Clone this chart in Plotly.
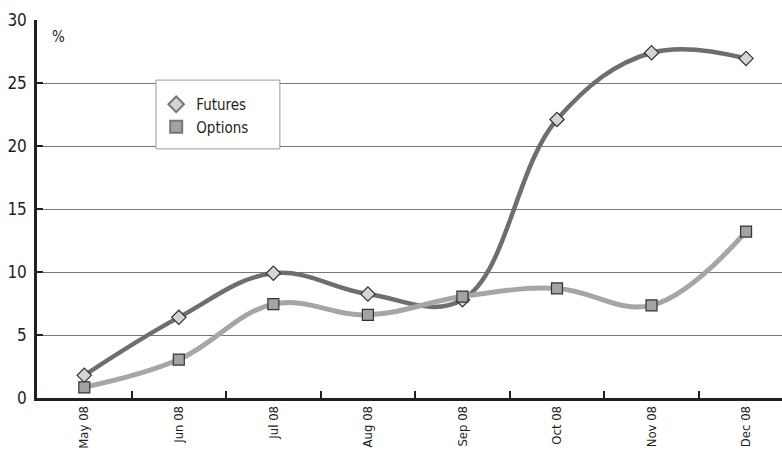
import plotly.graph_objects as go

months = ["May 08", "Jun 08", "Jul 08", "Aug 08", "Sep 08", "Oct 08", "Nov 08", "Dec 08"]
futures = [1.8, 6.4, 9.9, 8.25, 7.8, 22.1, 27.4, 26.95]
options = [0.85, 3.05, 7.45, 6.6, 8.05, 8.7, 7.35, 13.2]
y_ticks = [0, 5, 10, 15, 20, 25, 30]

FONT = "Liberation Sans Narrow, DejaVu Sans Condensed, Arial Narrow, sans-serif"
AXIS_COLOR = "#231f20"

fig = go.Figure()

# smoothed series lines with markers
fig.add_trace(go.Scatter(
    x=months, y=futures, name="Futures", mode="lines+markers",
    line=dict(color="#6e6e6e", width=4.5, shape="spline", smoothing=1.1),
    marker=dict(symbol="diamond", size=11, color="#d4d4d4",
                line=dict(color="#333333", width=1.2)),
    showlegend=False,
))
fig.add_trace(go.Scatter(
    x=months, y=options, name="Options", mode="lines+markers",
    line=dict(color="#a6a6a6", width=5, shape="spline", smoothing=1.1),
    marker=dict(symbol="square", size=11, color="#a3a3a3",
                line=dict(color="#333333", width=1.2)),
    showlegend=False,
))

# legend entries showing the marker only
fig.add_trace(go.Scatter(
    x=[None], y=[None], name="Futures", mode="markers",
    marker=dict(symbol="diamond", size=13, color="#d4d4d4",
                line=dict(color="#777777", width=1)),
))
fig.add_trace(go.Scatter(
    x=[None], y=[None], name="Options", mode="markers",
    marker=dict(symbol="square", size=13, color="#a3a3a3",
                line=dict(color="#777777", width=1)),
))

fig.update_layout(
    width=782, height=450,
    margin=dict(l=37, r=0, t=20, b=52),
    paper_bgcolor="white", plot_bgcolor="white",
    font=dict(family=FONT, size=14, color="#231f20"),
    showlegend=True,
    legend=dict(
        x=0.16, y=0.82, xanchor="left", yanchor="top",
        bgcolor="rgba(0,0,0,0)", borderwidth=0,
        font=dict(family=FONT, size=15, color="#231f20"),
        itemsizing="constant",
    ),
    # white legend panel covering the gridlines
    shapes=[dict(
        type="rect", xref="paper", yref="paper",
        x0=0.1597, x1=0.326, y0=0.659, y1=0.841,
        fillcolor="white", line=dict(color="#999999", width=1),
        layer="above",
    )],
    xaxis=dict(
        type="category", range=[-0.5, 7.38], automargin=False,
        showline=True, linecolor=AXIS_COLOR, linewidth=2.5,
        ticks="inside", ticklen=7, tickwidth=1.5, tickcolor=AXIS_COLOR,
        tickson="boundaries", tickangle=-90, ticklabelstandoff=0,
        showgrid=False, zeroline=False,
        tickfont=dict(family=FONT, size=13),
    ),
    yaxis=dict(
        range=[0, 30], tickvals=y_ticks, automargin=False,
        showline=True, linecolor=AXIS_COLOR, linewidth=2.5,
        ticks="inside", ticklen=6, tickwidth=1.5, tickcolor=AXIS_COLOR,
        showgrid=True, gridcolor="#777777", gridwidth=1,
        zeroline=False, ticklabelstandoff=4,
        tickfont=dict(family=FONT, size=17),
    ),
    annotations=[dict(
        text="%", xref="paper", yref="paper", x=0.018, y=0.985,
        xanchor="left", yanchor="top", showarrow=False,
        font=dict(family=FONT, size=15),
    )],
)

fig.write_html("out.html")
